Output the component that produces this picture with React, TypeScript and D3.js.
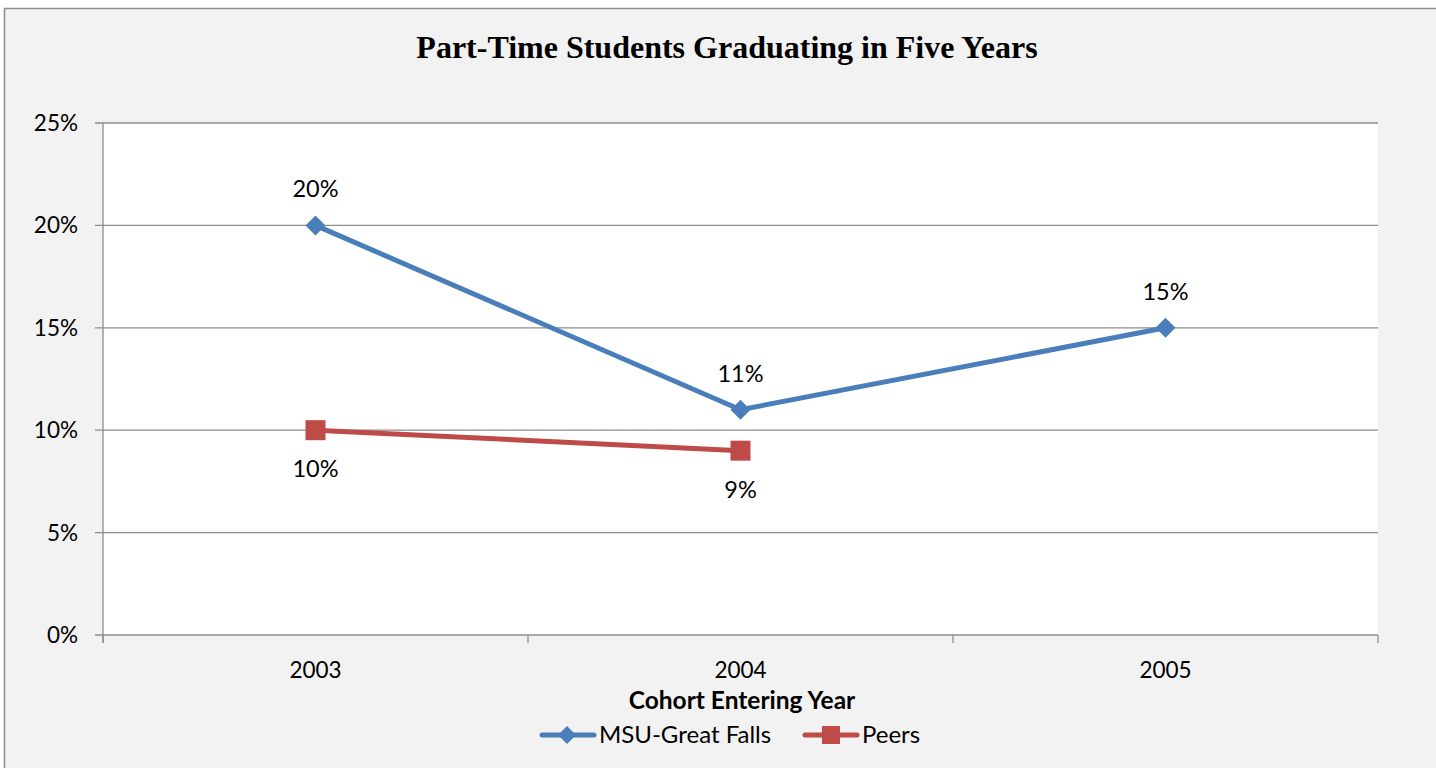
import React from "react";
import * as d3 from "d3";

const categories = ["2003", "2004", "2005"];
const msuValues: (number | null)[] = [0.20, 0.11, 0.15];
const peerValues: (number | null)[] = [0.10, 0.09, null];
const yTicks = [0, 0.05, 0.10, 0.15, 0.20, 0.25];
const seriesNames = ["MSU-Great Falls", "Peers"];

const W = 1436, H = 768;
const left = 103, right = 1378, top = 123, bottom = 635;
const BLUE = "#4a7ebb";
const RED = "#be4b48";
const FONT = "Lato, 'Open Sans', sans-serif";

export default function App() {
  const x = d3.scaleBand<string>().domain(categories).range([left, right]);
  const y = d3.scaleLinear().domain([0, 0.25]).range([bottom, top]);
  const cx = (c: string) => (x(c) as number) + x.bandwidth() / 2;
  const line = d3
    .line<[string, number | null]>()
    .defined((d) => d[1] !== null)
    .x((d) => cx(d[0]))
    .y((d) => y(d[1] as number));
  const msu = categories.map((c, i) => [c, msuValues[i]] as [string, number | null]);
  const peer = categories.map((c, i) => [c, peerValues[i]] as [string, number | null]);
  const fmt = d3.format(".0%");
  const boundaries = [...categories.map((c) => x(c) as number), right];

  return (
    <svg width={W} height={H} style={{ position: "absolute", left: 0, top: 0 }}>
      <rect x={4.5} y={8.5} width={1460} height={800} fill="#f2f2f2" stroke="#8c8c8c" strokeWidth={1.5} />
      <rect x={left} y={top} width={right - left} height={bottom - top} fill="#ffffff" />
      <text x={727} y={58} textAnchor="middle" fontFamily="'Liberation Serif', 'Times New Roman', serif" fontWeight="bold" fontSize={32}>
        Part-Time Students Graduating in Five Years
      </text>
      {yTicks.map((t) => (
        <g key={t}>
          <line x1={left - 8} x2={right} y1={y(t)} y2={y(t)} stroke="#8c8c8c" strokeWidth={1.3} />
          <text x={78} y={y(t) + 8} textAnchor="end" fontFamily={FONT} fontSize={22.5} fill="#000">
            {fmt(t)}
          </text>
        </g>
      ))}
      <line x1={left} x2={left} y1={top} y2={bottom + 8} stroke="#8c8c8c" strokeWidth={1.3} />
      {boundaries.map((b, i) => (
        <line key={i} x1={b} x2={b} y1={bottom} y2={bottom + 8} stroke="#8c8c8c" strokeWidth={1.3} />
      ))}
      {categories.map((c) => (
        <text key={c} x={cx(c)} y={678} textAnchor="middle" fontFamily={FONT} fontSize={22.5}>
          {c}
        </text>
      ))}
      <text x={742} y={709} textAnchor="middle" fontFamily={FONT} fontWeight="bold" fontSize={24.5}>
        Cohort Entering Year
      </text>
      <path d={line(peer) || ""} fill="none" stroke={RED} strokeWidth={5} strokeLinejoin="round" strokeLinecap="round" />
      <path d={line(msu) || ""} fill="none" stroke={BLUE} strokeWidth={5} strokeLinejoin="round" strokeLinecap="round" />
      {msu.filter((d) => d[1] !== null).map((d) => (
        <g key={"m" + d[0]}>
          <path d={`M${cx(d[0])},${y(d[1] as number) - 10}l10,10l-10,10l-10,-10z`} fill={BLUE} />
          <text x={cx(d[0])} y={y(d[1] as number) - 28} textAnchor="middle" fontFamily={FONT} fontSize={23.5}>
            {fmt(d[1] as number)}
          </text>
        </g>
      ))}
      {peer.filter((d) => d[1] !== null).map((d) => (
        <g key={"p" + d[0]}>
          <rect x={cx(d[0]) - 10} y={y(d[1] as number) - 10} width={20} height={20} fill={RED} />
          <text x={cx(d[0])} y={y(d[1] as number) + 47} textAnchor="middle" fontFamily={FONT} fontSize={23.5}>
            {fmt(d[1] as number)}
          </text>
        </g>
      ))}
      <g>
        <line x1={542} x2={594} y1={735} y2={735} stroke={BLUE} strokeWidth={5} strokeLinecap="round" />
        <path d={`M567,726l9,9l-9,9l-9,-9z`} fill={BLUE} />
        <text x={599} y={743} fontFamily={FONT} fontSize={24}>{seriesNames[0]}</text>
        <line x1={805} x2={857} y1={735} y2={735} stroke={RED} strokeWidth={5} strokeLinecap="round" />
        <rect x={822} y={726} width={18} height={18} fill={RED} />
        <text x={862} y={743} fontFamily={FONT} fontSize={24}>{seriesNames[1]}</text>
      </g>
    </svg>
  );
}
